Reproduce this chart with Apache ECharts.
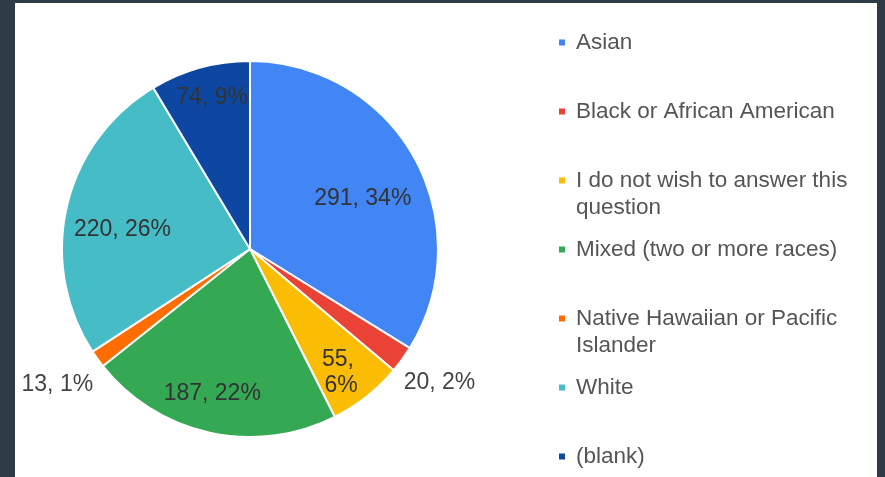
<!DOCTYPE html>
<html>
<head>
<meta charset="utf-8">
<script src="https://cdn.jsdelivr.net/npm/echarts@6/dist/echarts.min.js"></script>
<style>
  html, body { margin: 0; padding: 0; width: 885px; height: 477px; background: #2f3c46; overflow: hidden; }
  #panel { position: absolute; left: 15px; top: 3px; width: 862px; height: 474px; background: #ffffff; }
  #chart { position: absolute; left: 0; top: 0; width: 885px; height: 477px; }
</style>
</head>
<body>
<div id="panel"></div>
<div id="chart"></div>
<script>
// Survey responses by race / ethnicity
const categories = [
  'Asian',
  'Black or African American',
  'I do not wish to answer this question',
  'Mixed (two or more races)',
  'Native Hawaiian or Pacific Islander',
  'White',
  '(blank)'
];
const counts = [291, 20, 55, 187, 13, 220, 74];
const percentLabels = [34, 2, 6, 22, 1, 26, 9];
const legendLines = [
  'Asian',
  'Black or African American',
  'I do not wish to answer this\nquestion',
  'Mixed (two or more races)',
  'Native Hawaiian or Pacific\nIslander',
  'White',
  '(blank)'
];

const colors = ['#4285f4', '#ea4335', '#fbbc04', '#34a853', '#ff6d01', '#46bdc6', '#0d47a1'];
// nudges applied to each slice label from its default inside anchor
const labelShift = [[28, -3], [111, 77], [31, 48], [-17, 50], [-114, 79], [-33, 2], [-12, -58]];
const FONT = '"Liberation Sans", Arial, sans-serif';

const pieData = categories.map((name, i) => {
  const item = { name: name, value: counts[i] };
  if (i === 2) item.label = { width: 50, overflow: 'break', lineHeight: 26, align: 'left' };
  if (i === 1 || i === 4) item.label = { color: '#444' };
  return item;
});

const chart = echarts.init(document.getElementById('chart'), null, { renderer: 'canvas' });
chart.setOption({
  animation: false,
  color: colors,
  legend: {
    orient: 'vertical',
    left: 559,
    top: 2,
    height: 560,
    padding: 0,
    itemGap: -12,
    itemWidth: 6,
    itemHeight: 6,
    icon: 'rect',
    itemStyle: { borderWidth: 0 },
    selectedMode: false,
    data: categories,
    formatter: function (name) {
      const t = legendLines[categories.indexOf(name)];
      // pad to three lines so the first text line sits level with the swatch
      return t.indexOf('\n') >= 0 ? '\n' + t : '\n' + t + '\n';
    },
    textStyle: {
      fontFamily: FONT,
      fontSize: 22.5,
      lineHeight: 27,
      color: '#555555',
      padding: [0, 0, 0, 6]
    }
  },
  series: [{
    type: 'pie',
    center: [250, 249],
    radius: 188,
    startAngle: 90,
    clockwise: true,
    avoidLabelOverlap: false,
    itemStyle: { borderColor: '#ffffff', borderWidth: 2 },
    label: {
      show: true,
      position: 'inside',
      fontFamily: FONT,
      fontSize: 23,
      color: '#333333',
      formatter: function (p) {
        return p.value + ', ' + percentLabels[p.dataIndex] + '%';
      }
    },
    labelLine: { show: false },
    labelLayout: function (p) {
      const s = labelShift[p.dataIndex];
      return { dx: s[0], dy: s[1] };
    },
    emphasis: { disabled: true },
    data: pieData
  }]
});
</script>
</body>
</html>
